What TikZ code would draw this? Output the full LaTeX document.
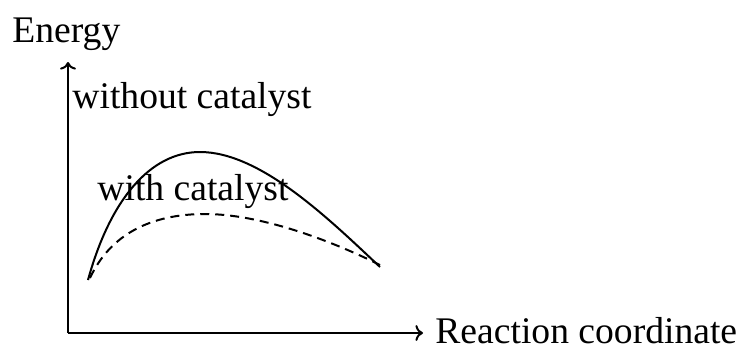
\documentclass[tikz,border=0pt]{standalone}
\usepackage{fontspec}
\setmainfont{Liberation Serif}
\usetikzlibrary{arrows.meta,positioning,calc}

\begin{document}
\begin{tikzpicture}[
  x=0.5pt, y=-0.5pt,
  lbl/.style={font=\fontsize{18.8}{22}\selectfont, inner sep=0pt, anchor=base west},
  axis/.style={->, line width=1pt},
  curve/.style={line width=1pt}
]
\useasboundingbox (0,0) rectangle (744,349);

\coordinate (o) at (68,333);
\coordinate (ytop) at (68,62);
\coordinate (xend) at (423,333);

\node[lbl] (energy) at (12,42) {Energy};
\node[lbl] (rc) at (435,343) {Reaction coordinate};
\node[lbl] (without) at (72,108) {without catalyst};
\node[lbl] (with) at (97,200) {with catalyst};

\draw[axis] (o) -- (ytop);
\draw[axis] (o) -- (xend);

% without catalyst
\coordinate (s1) at (88,280);
\coordinate (p1) at (200,152);
\coordinate (e1) at (380,267);
\draw[curve] (s1) .. controls (110,200) and (150,152) .. (p1)
  .. controls (260,152) and (328,218) .. (e1);

% with catalyst
\coordinate (s2) at (90,278);
\coordinate (p2) at (205,214);
\coordinate (e2) at (380,265);
\draw[curve, dash pattern=on 4.5pt off 3pt] (s2) .. controls (110,235) and (150,214) .. (p2)
  .. controls (260,214) and (330,240) .. (e2);
\end{tikzpicture}
\end{document}
